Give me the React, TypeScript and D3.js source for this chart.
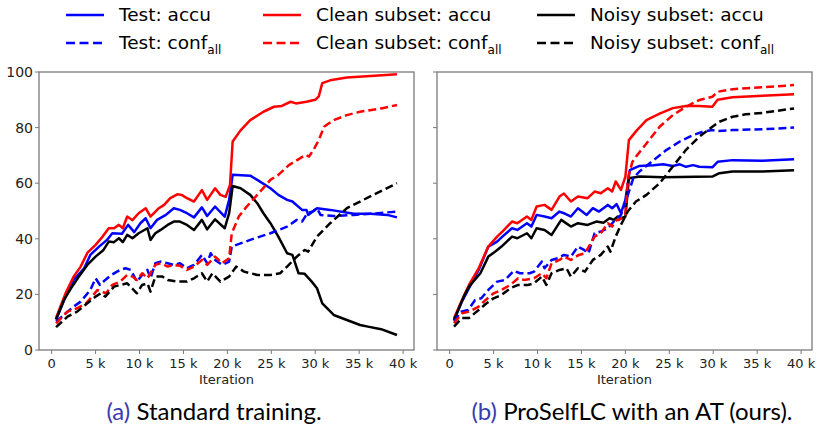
import React from 'react';
import * as d3 from 'd3';

type Pt = [number, number];

// iteration in thousands, value in %
const xTicks = [0, 5, 10, 15, 20, 25, 30, 35, 40];
const xTickLabels = ['0', '5 k', '10 k', '15 k', '20 k', '25 k', '30 k', '35 k', '40 k'];
const yTicks = [0, 20, 40, 60, 80, 100];

// (a) standard training
const aTestAccu: Pt[] = [[0.5,11],[1.6,19.2],[2.5,25.2],[3.7,29.4],[4.4,34.2],[5.4,37.2],[6.3,39.6],[6.9,42],[8,41.8],[8.7,45],[9.4,42.4],[10.1,45.6],[10.7,47.4],[11.25,43.8],[12,46.8],[13,48.6],[13.9,51],[14.6,50.4],[15.4,49.2],[16.2,47.7],[17.1,51.3],[17.7,48.2],[18.6,51.6],[19.7,48],[20.2,54],[20.6,63],[22.6,62.7],[23.4,61.2],[24.9,58.2],[25.8,55.8],[26.8,54],[27.4,53.4],[28.5,50.4],[29,50.4],[29.2,48.6],[30.2,51],[31.7,50.4],[34.4,49],[36.3,49],[38.2,48.6],[39.3,47.7]];
const aCleanAccu: Pt[] = [[0.5,11.5],[1.6,20.5],[2.5,26.4],[3.3,30],[4.06,34.9],[5,37.8],[5.8,40.8],[6.5,43.8],[7.1,43.8],[7.65,45],[8.1,43.8],[8.6,48],[9.2,46.7],[9.9,49.2],[10.7,51],[11.25,48],[12.2,51],[12.8,52.2],[13.5,54.6],[14.3,56],[14.8,55.8],[15.4,54.6],[16.2,53.4],[17.1,57.5],[17.7,54],[18.6,58.2],[19.2,55.8],[19.8,55.1],[20.3,59.4],[20.6,75],[21.5,79],[22.6,82.7],[24.1,85.7],[25.3,87.5],[26.2,87.8],[27.2,89.3],[27.8,88.7],[29,89.3],[30,90],[30.4,91.2],[30.8,96],[31.7,97],[33.6,98],[36.3,98.6],[39.3,99.2]];
const aNoisyAccu: Pt[] = [[0.5,11],[1.4,18],[2.2,22.2],[3.1,26.4],[4.06,30.6],[5,33.6],[5.9,36],[6.5,39],[7.1,38.8],[7.65,40.2],[8.1,38.8],[8.6,41.4],[9.2,40.2],[9.9,42],[10.9,43.8],[11.25,39.6],[11.8,42],[12.4,43.2],[13.2,45],[13.9,46.2],[14.6,46.2],[15.4,45],[16.2,43.2],[17.1,46.8],[17.7,43.4],[18.6,47],[19.7,43.8],[20.2,49.2],[20.6,59],[21.5,58.2],[22.6,55.8],[23.4,52.8],[24.1,49.2],[24.9,45.6],[25.8,40.8],[26.8,34.8],[27.4,34.2],[28.1,27.6],[28.8,27.4],[29.6,24.6],[30.2,22.2],[30.8,16.8],[32.1,12.6],[33.6,10.8],[35.1,9],[36,8.4],[37.5,7.5],[39.3,5.4]];
const aTestConf: Pt[] = [[0.5,10.2],[1.6,13.2],[2.5,15.6],[3.3,17.4],[4.4,21.6],[5,25.8],[5.5,23.4],[6.1,25.2],[6.8,27],[7.8,28.8],[8.4,29.4],[9,28.8],[9.7,24.6],[10.3,27],[10.9,28.8],[11.25,25.8],[11.8,31.2],[12.4,31.8],[13.2,31.2],[13.9,30.6],[14.6,31.2],[15.4,29.4],[16.2,30.6],[17.1,34.2],[17.7,31.2],[18.1,34.8],[18.6,32.4],[19.4,30.6],[20.2,31.8],[20.5,37.2],[22.6,39.6],[24.9,42],[26.8,44.4],[27.9,46.8],[28.5,46.2],[29.1,49.2],[29.7,49.8],[30.2,51],[30.6,48.6],[32.1,48.2],[34.4,48.6],[36.3,49],[39.3,49.8]];
const aCleanConf: Pt[] = [[0.5,9.6],[1.8,13.8],[2.9,15],[3.9,16.8],[4.6,19.2],[5.2,21.6],[5.7,21],[6.2,20.4],[6.9,23.4],[7.8,24.6],[8.6,27],[9.2,26.4],[9.7,25.2],[10.3,27.6],[10.9,25.8],[11.8,30.6],[12.4,31.2],[13.2,30],[13.9,30.6],[14.6,30.3],[15.4,28.8],[16.2,30],[17.1,32.4],[17.7,30.6],[18.6,33.6],[19.4,31.2],[20.2,33],[20.5,42],[21.3,48],[22.2,51.6],[23.4,55.8],[24.9,61.2],[25.8,63],[27,66.5],[28.3,69],[28.9,70.2],[29.3,69.6],[29.8,72],[30.4,75.5],[31,80.3],[32.1,82.7],[33.6,84.5],[35.1,85.7],[37.5,86.9],[39.3,88.1]];
const aNoisyConf: Pt[] = [[0.5,8.2],[1.8,12],[2.9,13.8],[4.06,16.8],[5,19.2],[5.6,20.4],[6.1,19.2],[7.1,22.8],[7.8,23.4],[8.6,24],[9.7,20.4],[10.3,23.4],[10.9,24],[11.25,21],[11.8,26.4],[12.6,26.4],[13.2,25.2],[14.3,24.6],[15.4,24.6],[16.2,25.8],[17.1,27.6],[17.7,24.6],[18.3,27.6],[19.2,24.6],[20.2,26.4],[21,30],[21.9,28.2],[23.4,27],[24.9,27],[26,27.6],[26.8,30],[27.9,33.6],[28.8,36],[29.2,35.4],[30.2,40.8],[31.7,45.6],[33.6,51],[35.1,53.4],[36.6,55.8],[39.3,60]];

// (b) ProSelfLC with an AT
const bTestAccu: Pt[] = [[0.5,10.8],[1.4,17.4],[2.2,22.2],[3.3,28.8],[4.4,37.2],[5.4,39],[6,40.8],[7.1,43.8],[7.7,43.2],[8.8,45.6],[9.3,44.4],[9.9,48.6],[10.8,48],[11.6,47.4],[12.5,49.8],[13,49.2],[13.8,48],[14.6,51],[15.6,48.6],[16.3,51],[17,49.8],[18,52.2],[18.5,51],[19,52.5],[19.5,49.2],[20,54],[20.5,64.7],[21.6,66.2],[23.2,66.5],[24.3,66.8],[25.4,66.2],[26.2,66.8],[26.9,65.9],[27.7,66.5],[28.4,65.9],[29.9,65.7],[30.5,67.7],[32.2,68.3],[35.6,68.1],[39.2,68.6]];
const bCleanAccu: Pt[] = [[0.5,11.4],[1.4,18],[2.2,23.4],[3.3,29.4],[4.4,37.2],[5.4,40.8],[6,42.6],[7.1,46.2],[7.7,45.6],[8.8,48],[9.3,46.8],[9.9,51.6],[10.8,52.2],[11.6,50.4],[12.5,55.2],[13,56.3],[13.8,53.4],[14.6,55.2],[15.7,54.6],[16.5,57],[17.2,56.4],[18,58.2],[18.5,57],[18.9,60.6],[19.5,57.6],[20,62.4],[20.4,75.5],[21.3,79],[22.4,82.7],[23.9,85],[25.4,87],[26.9,87.8],[28.4,87.8],[29.9,87.5],[30.5,90],[32.2,90.9],[35.6,91.5],[39.2,92]];
const bNoisyAccu: Pt[] = [[0.5,10.8],[1.6,19.2],[2.2,22.8],[3.5,27.6],[4.4,33.6],[5.2,35.4],[5.9,37.2],[7.1,40.8],[7.7,40.2],[8.8,42],[9.3,40.2],[9.9,43.8],[10.8,43.2],[11.6,41.4],[12.7,46.8],[13.8,44.4],[14.6,45.6],[15.7,45],[16.7,46.2],[17.5,45.8],[18.2,47.4],[18.7,46.8],[19.1,48],[19.5,47.4],[20,48],[20.4,61.8],[21.6,62.4],[24.3,62.1],[29.9,62.4],[30.7,63.6],[32.2,64.2],[35.6,64.2],[39.2,64.7]];
const bTestConf: Pt[] = [[0.5,10.2],[1.3,13.8],[2.1,14.4],[2.9,18],[3.6,18.6],[4.4,21.6],[5.4,24.6],[6.3,25.2],[7.3,28.5],[8,27.6],[9.1,27.6],[9.6,28.2],[10.5,31.8],[10.8,29.4],[11.6,32.4],[12.3,33],[13,34.2],[13.8,33.6],[14.6,37.2],[15.3,36],[15.8,34.8],[16.5,42],[17.2,42.6],[18,43.8],[18.5,45.6],[19,47.4],[19.5,48.6],[20.1,54],[20.9,61.8],[21.6,64.2],[23.2,68.3],[24.7,72],[26.2,75],[27.7,77.3],[28.8,78.5],[29.9,79.1],[30.6,78.8],[32.2,79.1],[35.6,79.4],[39.2,80]];
const bCleanConf: Pt[] = [[0.5,9.6],[1.4,13.2],[2.2,13.8],[3.3,15.6],[4.1,18],[5,20.4],[5.9,21.6],[6.9,23.4],[7.8,25.8],[8.5,25.2],[9.6,25.8],[10.5,27.6],[11,25.8],[11.6,31.2],[12.5,32.4],[13,33.6],[13.8,32.4],[14.7,34.2],[15.4,34.8],[16.5,40.8],[17.2,42],[18,45.6],[18.5,44.4],[19,46.8],[19.3,46.8],[20,48.6],[20.3,62],[20.8,67.7],[21.2,69.5],[22.4,74.3],[23.9,80.3],[25.4,84.5],[26.9,87.5],[28.4,89.9],[29.9,91.1],[30.5,92.9],[32.2,93.8],[35.6,94.5],[39.2,95.3]];
const bNoisyConf: Pt[] = [[0.5,8.4],[1.4,11.5],[2.2,11.5],[3.3,14.4],[4.2,16.8],[5,18.6],[5.9,19.8],[6.9,22.2],[7.8,23.4],[8.9,23.4],[9.6,24],[10.5,26.4],[11,23.4],[11.6,27.6],[12.5,28.8],[13.3,29.4],[13.8,26.4],[14.6,29.4],[15.4,28.2],[16.3,32.4],[17.2,34.2],[18,37.2],[18.3,35.4],[18.9,40.8],[19.4,44.4],[20.3,50],[21.2,53.4],[22.4,55.8],[23.9,60],[25.4,66],[26.9,72],[28.4,76.7],[29.9,80.3],[30.7,82.1],[32.2,83.9],[33.7,84.8],[35.6,85.3],[39.2,86.9]];

const legendNames = ['Test', 'Clean subset', 'Noisy subset'];
const colors = ['#0000ff', '#ff0000', '#000000'];

const FONT = 'DejaVu Sans, sans-serif';
const W = 820, H = 425;
const TOP = 72, BOTTOM = 350;

const panels = [
  { x0: 39, x1: 414, labels: true, series: [aTestAccu, aCleanAccu, aNoisyAccu, aTestConf, aCleanConf, aNoisyConf],
    tag: '(a)', caption: ' Standard training.', cx: 214 },
  { x0: 437, x1: 812, labels: false, series: [bTestAccu, bCleanAccu, bNoisyAccu, bTestConf, bCleanConf, bNoisyConf],
    tag: '(b)', caption: ' ProSelfLC with an AT (ours).', cx: 632 },
];

const Panel = ({ p }: { p: typeof panels[number] }) => {
  const x = d3.scaleLinear().domain([-1.44, 41.24]).range([p.x0, p.x1]);
  const y = d3.scaleLinear().domain([0, 100]).range([BOTTOM, TOP]);
  const line = d3.line<Pt>().x(d => x(d[0])).y(d => y(d[1]));
  const axisColor = '#7a7a7a';
  return (
    <g>
      {p.series.map((s, i) => (
        <path key={i} d={line(s) || ''} fill="none" stroke={colors[i % 3]} strokeWidth={2.5}
          strokeDasharray={i >= 3 ? '8,4' : undefined} strokeLinejoin="round" />
      ))}
      <rect x={p.x0} y={TOP} width={p.x1 - p.x0} height={BOTTOM - TOP} fill="none" stroke={axisColor} strokeWidth={1.3} />
      {xTicks.map((t, i) => (
        <g key={t}>
          <line x1={x(t)} x2={x(t)} y1={BOTTOM} y2={BOTTOM + 4} stroke={axisColor} strokeWidth={1} />
          <text x={x(t)} y={BOTTOM + 18} textAnchor="middle" fontSize={13} fontFamily={FONT} fill="#222">{xTickLabels[i]}</text>
        </g>
      ))}
      {yTicks.map(t => (
        <g key={t}>
          <line x1={p.x0 - 4} x2={p.x0} y1={y(t)} y2={y(t)} stroke={axisColor} strokeWidth={1} />
          {p.labels && (
            <text x={p.x0 - 6} y={y(t) + 5} textAnchor="end" fontSize={14} fontFamily={FONT} fill="#222">{t}</text>
          )}
        </g>
      ))}
      <text x={(p.x0 + p.x1) / 2} y={BOTTOM + 34} textAnchor="middle" fontSize={13} fontFamily={FONT} fill="#222">Iteration</text>
      <text x={p.cx} y={420} textAnchor="middle" fontSize={24} fontFamily="Lato, sans-serif" fill="#000">
        <tspan fill="#3a3ab0">{p.tag}</tspan>{p.caption}
      </text>
    </g>
  );
};

const Legend = () => {
  const cols = [66, 263, 537];
  const rows = [15, 43];
  return (
    <g>
      {legendNames.map((name, i) => (
        <g key={name}>
          {rows.map((ry, r) => (
            <g key={r}>
              <line x1={cols[i]} x2={cols[i] + 38} y1={ry} y2={ry} stroke={colors[i]} strokeWidth={2.5}
                strokeDasharray={r === 1 ? '9,4.5' : undefined} />
              <text x={cols[i] + 53} y={ry + 6} fontSize={18.5} fontFamily={FONT} fill="#000">
                {r === 0 ? `${name}: accu` : <>{`${name}: conf`}<tspan fontSize={12} dy={5}>all</tspan></>}
              </text>
            </g>
          ))}
        </g>
      ))}
    </g>
  );
};

export default function App() {
  return (
    <svg width={W} height={H} style={{ position: 'absolute', left: 0, top: 0, background: '#fff' }}>
      <rect width={W} height={H} fill="#fff" />
      <Legend />
      {panels.map((p, i) => <Panel key={i} p={p} />)}
    </svg>
  );
}
